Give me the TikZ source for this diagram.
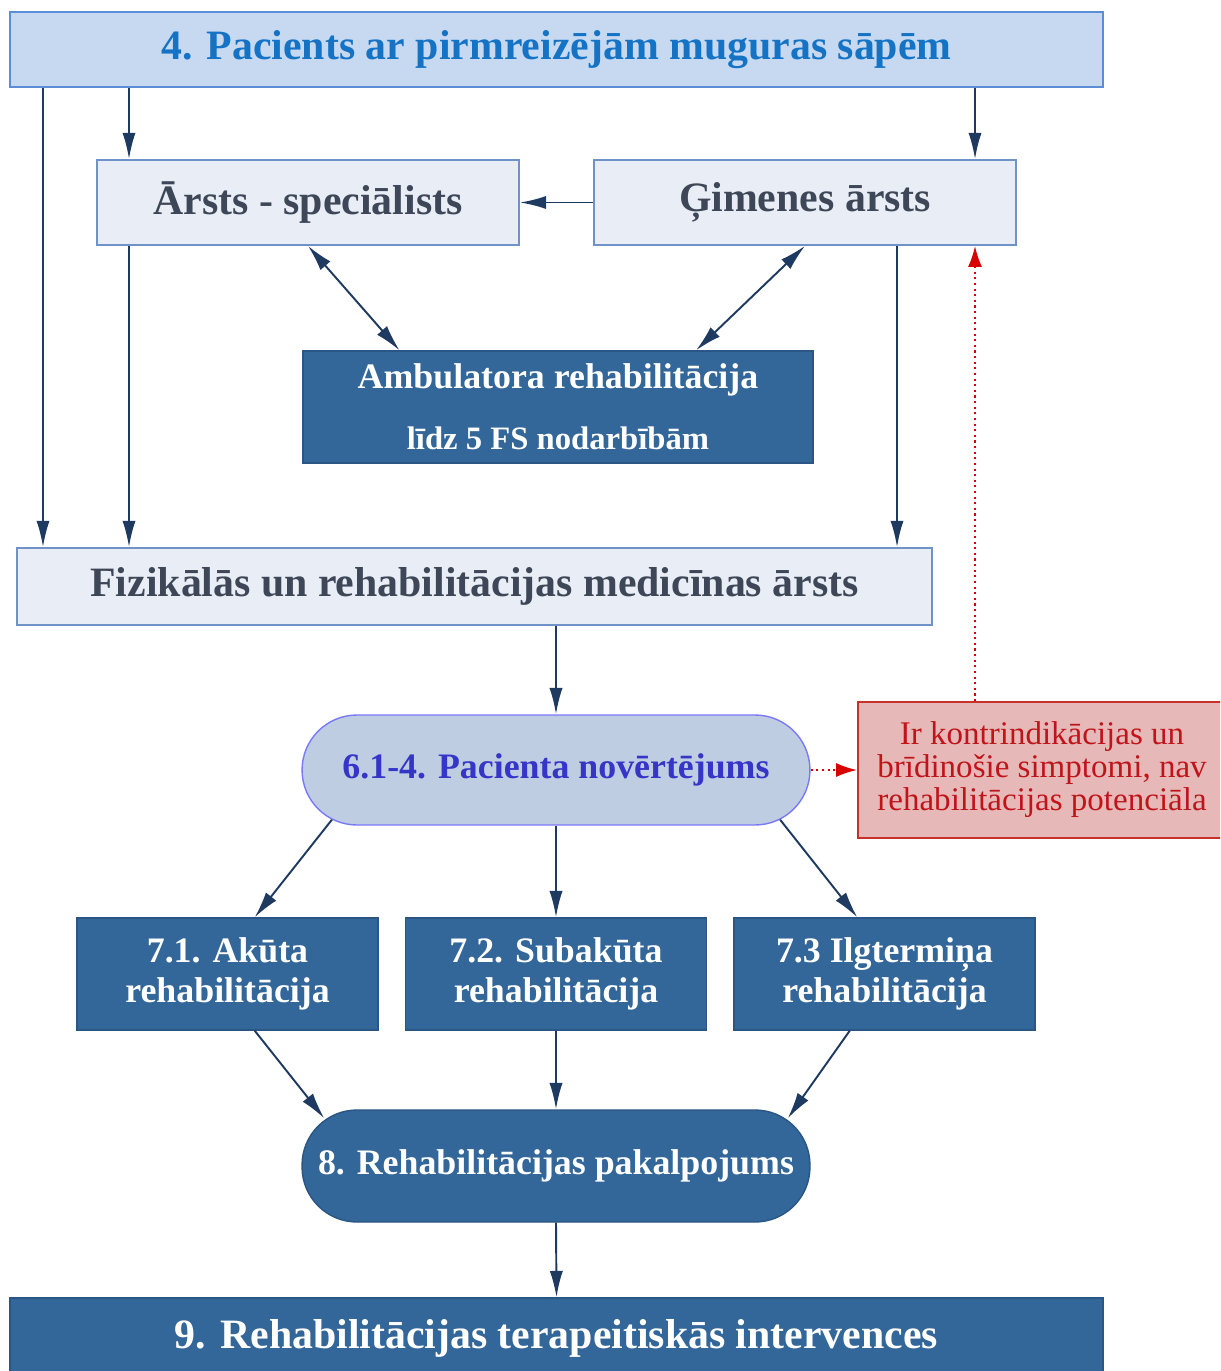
\documentclass[tikz,border=0pt]{standalone}
\usepackage{fontspec}
\setmainfont{Liberation Serif}
\usetikzlibrary{arrows.meta,calc}

\definecolor{headfill}{HTML}{C6D9F1}
\definecolor{headline}{HTML}{5B8ED6}
\definecolor{headtext}{HTML}{1573C6}
\definecolor{docfill}{HTML}{E9EEF6}
\definecolor{docline}{HTML}{6F92C8}
\definecolor{doctext}{HTML}{3D4757}
\definecolor{darkfill}{HTML}{336699}
\definecolor{darkline}{HTML}{2A5584}
\definecolor{pacfill}{HTML}{BFCDE2}
\definecolor{pacline}{HTML}{7A7AF8}
\definecolor{pactext}{HTML}{3535C8}
\definecolor{warnfill}{HTML}{E6B9B8}
\definecolor{warnline}{HTML}{C8302C}
\definecolor{warntext}{HTML}{C0141A}
\definecolor{arrowc}{HTML}{1F3A60}

\begin{document}
\begin{tikzpicture}[
  x=0.02cm, y=-0.02cm,
  big/.style={font=\fontsize{23.8}{28}\selectfont\bfseries},
  mid/.style={font=\fontsize{20.4}{22.7}\selectfont\bfseries},
  head/.style={big, draw=headline, fill=headfill, text=headtext, line width=1pt,
    inner sep=0pt},
  doc/.style={big, draw=docline, fill=docfill, text=doctext, line width=1pt,
    inner sep=0pt},
  dark/.style={mid, draw=darkline, fill=darkfill, text=white, line width=0.8pt,
    inner sep=0pt, align=center},
  pill/.style={rounded corners=1.1cm, minimum width=10.16cm},
  warn/.style={draw=warnline, fill=warnfill, text=warntext, line width=1pt,
    inner sep=0pt, align=center, font=\fontsize{18.8}{18.8}\selectfont},
  flow/.style={-{Latex[length=15pt,width=7.5pt]}, line width=1.1pt, arrowc},
  twoway/.style={flow, {Latex[length=15pt,width=7.5pt]}-{Latex[length=15pt,width=7.5pt]}},
  alarm/.style={-{Latex[length=12pt,width=8pt]}, line width=1.2pt, red!85!black,
    dotted}
]
  \useasboundingbox (0,0) rectangle (1220,1371);
  \clip (0,0) rectangle (1220,1371);

  %% ============================================ the patient and the doctors
  \node[head, minimum width=21.86cm, minimum height=1.5cm] (top) at (556.5,49.5)
    {4. Pacients ar pirmreizējām muguras sāpēm};
  \node[doc, minimum width=8.44cm, minimum height=1.7cm] (ars) at (308,202.5)
    {Ārsts - speciālists};
  \node[doc, minimum width=8.44cm, minimum height=1.7cm] (gim) at (805,202.5)
    {Ģimenes ārsts};
  \node[dark, minimum width=10.2cm, minimum height=2.24cm] (amb) at (558,407)
    {Ambulatora rehabilitācija\\[12pt]
     {\fontsize{18.6}{22}\selectfont līdz 5 FS nodarbībām}};
  \node[doc, minimum width=18.3cm, minimum height=1.54cm] (fiz) at (474.5,586.5)
    {Fizikālās un rehabilitācijas medicīnas ārsts};

  % x positions of the straight drops
  \coordinate (xa) at (43,0);
  \coordinate (xb) at (129,0);
  \coordinate (xc) at (897,0);
  \coordinate (xd) at (975,0);

  \draw[flow] (top.south -| xa) -- (fiz.north -| xa);
  \draw[flow] (top.south -| xb) -- (ars.north -| xb);
  \draw[flow] (top.south -| xd) -- (gim.north -| xd);
  \draw[flow] (gim.west) -- (ars.east);
  \draw[flow] (ars.south -| xb) -- (fiz.north -| xb);
  \draw[flow] (gim.south -| xc) -- (fiz.north -| xc);
  \draw[twoway] (ars.south) -- ($(amb.north west)!0.19!(amb.north east)$);
  \draw[twoway] (gim.south) -- ($(amb.north west)!0.77!(amb.north east)$);

  %% ============================================ the assessment
  \node[dark, pill, minimum height=2.2cm, draw=pacline, fill=pacfill,
    text=pactext] (pac) at (556,770) {6.1-4. Pacienta novērtējums};
  \node[warn, minimum width=7.36cm, minimum height=2.72cm] (stop) at (1042,770)
    {Ir kontrindikācijas un\\brīdinošie simptomi, nav\\rehabilitācijas potenciāla};

  \draw[flow] (fiz.south -| pac.north) -- (pac.north);
  \draw[alarm] (pac.east) -- (stop.west);
  \draw[alarm] (stop.north -| xd) -- (gim.south -| xd);

  %% ============================================ the three branches
  \node[dark, minimum width=6.02cm, minimum height=2.24cm] (akt) at (227.5,974)
    {7.1. Akūta\\rehabilitācija};
  \node[dark, minimum width=6.02cm, minimum height=2.24cm] (sub) at (556,974)
    {7.2. Subakūta\\rehabilitācija};
  \node[dark, minimum width=6.02cm, minimum height=2.24cm] (ilg) at (884.5,974)
    {7.3 Ilgtermiņa\\rehabilitācija};

  \draw[flow] ($(pac.south west)!0.06!(pac.south east)+(0,-6)$)
    -- ($(akt.north west)!0.59!(akt.north east)$);
  \draw[flow] (pac.south) -- (sub.north);
  \draw[flow] ($(pac.south west)!0.94!(pac.south east)+(0,-6)$)
    -- ($(ilg.north west)!0.41!(ilg.north east)$);

  %% ============================================ service and interventions
  \node[dark, pill, minimum height=2.24cm] (svc) at (556,1166)
    {8. Rehabilitācijas pakalpojums};
  \node[dark, big, minimum width=21.86cm, minimum height=1.6cm] (ter)
    at (556.5,1338) {9. Rehabilitācijas terapeitiskās intervences};

  \draw[flow] ($(akt.south west)!0.59!(akt.south east)$)
    -- ($(svc.north west)!0.045!(svc.north east)+(0,9)$);
  \draw[flow] (sub.south) -- (svc.north);
  \draw[flow] ($(ilg.south west)!0.385!(ilg.south east)$)
    -- ($(svc.north west)!0.955!(svc.north east)+(0,9)$);
  \draw[flow] (svc.south) -- (ter.north);

\end{tikzpicture}
\end{document}
